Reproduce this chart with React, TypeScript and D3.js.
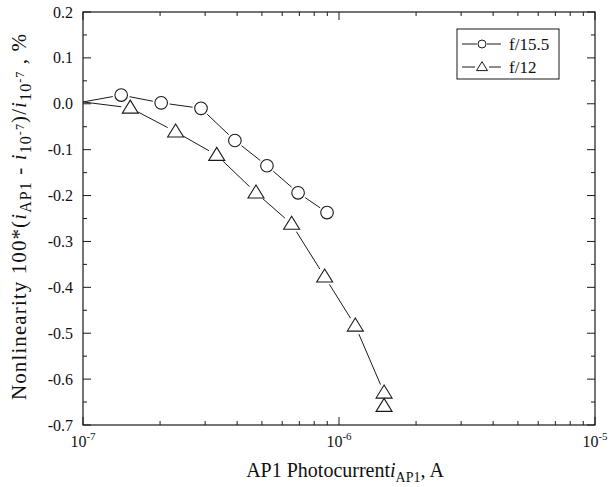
import React from "react";
import * as d3 from "d3";

const seriesNames = ["f/15.5", "f/12"];
const circleX = [1e-7, 1.41e-7, 2.02e-7, 2.89e-7, 3.92e-7, 5.23e-7, 6.92e-7, 8.98e-7];
const circleY = [0.004, 0.019, 0.002, -0.01, -0.08, -0.135, -0.194, -0.237];
const triX = [1e-7, 1.53e-7, 2.3e-7, 3.33e-7, 4.74e-7, 6.53e-7, 8.79e-7, 1.158e-6, 1.5e-6, 1.5e-6];
const triY = [0.004, -0.009, -0.061, -0.112, -0.194, -0.262, -0.377, -0.484, -0.63, -0.659];
const yTicks = [0.2, 0.1, 0.0, -0.1, -0.2, -0.3, -0.4, -0.5, -0.6, -0.7];
const xDecades = [-7, -6, -5];

const W = 610, H = 487;
const L = 83, R = 595, T = 12, B = 425;
const FONT = "'Liberation Serif', 'Times New Roman', serif";

function segs(pts: [number, number][], gap: number) {
  const out: string[] = [];
  for (let i = 0; i < pts.length - 1; i++) {
    const [x1, y1] = pts[i];
    const [x2, y2] = pts[i + 1];
    const dx = x2 - x1, dy = y2 - y1;
    const len = Math.hypot(dx, dy);
    const g1 = i === 0 ? 0 : gap;
    const g2 = gap;
    if (len <= g1 + g2) continue;
    const ux = dx / len, uy = dy / len;
    out.push(`M${x1 + ux * g1},${y1 + uy * g1}L${x2 - ux * g2},${y2 - uy * g2}`);
  }
  return out.join("");
}

function triPath(cx: number, cy: number, w: number, h: number) {
  return `M${cx},${cy - h * 0.6}L${cx + w / 2},${cy + h * 0.4}L${cx - w / 2},${cy + h * 0.4}Z`;
}

export default function App() {
  const x = d3.scaleLog().domain([1e-7, 1e-5]).range([L, R]);
  const y = d3.scaleLinear().domain([-0.7, 0.2]).range([B, T]);

  const cPts: [number, number][] = circleX.map((v, i) => [x(v), y(circleY[i])]);
  const tPts: [number, number][] = triX.map((v, i) => [x(v), y(triY[i])]);

  const minorX: number[] = [];
  for (let d = -7; d < -5; d++) for (let k = 2; k <= 9; k++) minorX.push(k * Math.pow(10, d));
  const minorY: number[] = d3.range(-0.65, 0.2, 0.1);

  const stroke = "#1a1a1a";
  const fs = 16;

  return (
    <svg width={W} height={H} style={{ position: "absolute", left: 0, top: 0, background: "#fff" }} fontFamily={FONT}>
      <rect x={0} y={0} width={W} height={H} fill="#fff" />
      <rect x={L} y={T} width={R - L} height={B - T} fill="none" stroke={stroke} strokeWidth={1.2} />
      {xDecades.map((d) => {
        const px = x(Math.pow(10, d));
        return (
          <g key={"xd" + d}>
            <line x1={px} x2={px} y1={B} y2={B - 8} stroke={stroke} />
            <line x1={px} x2={px} y1={T} y2={T + 8} stroke={stroke} />
            <text x={px} y={447} textAnchor="middle" fontSize={fs} fill="#111">
              10<tspan dy={-7} fontSize={11}>{String(d)}</tspan>
            </text>
          </g>
        );
      })}
      {minorX.map((v, i) => (
        <g key={"xm" + i}>
          <line x1={x(v)} x2={x(v)} y1={B} y2={B - 4} stroke={stroke} />
          <line x1={x(v)} x2={x(v)} y1={T} y2={T + 4} stroke={stroke} />
        </g>
      ))}
      {yTicks.map((v) => (
        <g key={"yt" + v}>
          <line x1={L} x2={L + 8} y1={y(v)} y2={y(v)} stroke={stroke} />
          <line x1={R} x2={R - 8} y1={y(v)} y2={y(v)} stroke={stroke} />
          <text x={73} y={y(v) + 5.5} textAnchor="end" fontSize={fs} fill="#111">
            {d3.format(".1f")(v).replace("−", "-")}
          </text>
        </g>
      ))}
      {minorY.map((v, i) => (
        <g key={"ym" + i}>
          <line x1={L} x2={L + 4} y1={y(v)} y2={y(v)} stroke={stroke} />
          <line x1={R} x2={R - 4} y1={y(v)} y2={y(v)} stroke={stroke} />
        </g>
      ))}
      <path d={segs(cPts, 8.5)} fill="none" stroke={stroke} strokeWidth={1} />
      <path d={segs(tPts, 9)} fill="none" stroke={stroke} strokeWidth={1} />
      {cPts.slice(1).map(([cx, cy], i) => (
        <circle key={"c" + i} cx={cx} cy={cy} r={6.3} fill="#fff" stroke={stroke} strokeWidth={1.1} />
      ))}
      {tPts.slice(1).map(([cx, cy], i) => (
        <path key={"t" + i} d={triPath(cx, cy, 16, 13)} fill="none" stroke={stroke} strokeWidth={1.1} />
      ))}
      <rect x={457} y={29} width={102} height={50} fill="#fff" stroke={stroke} strokeWidth={1} />
      <line x1={462} x2={477} y1={44} y2={44} stroke={stroke} />
      <line x1={487} x2={501} y1={44} y2={44} stroke={stroke} />
      <circle cx={482} cy={44} r={4} fill="none" stroke={stroke} />
      <text x={509} y={50} fontSize={17} fill="#111">{seriesNames[0]}</text>
      <line x1={462} x2={475} y1={67} y2={67} stroke={stroke} />
      <line x1={489} x2={501} y1={67} y2={67} stroke={stroke} />
      <path d={triPath(482, 67, 11, 9)} fill="none" stroke={stroke} />
      <text x={509} y={73} fontSize={17} fill="#111">{seriesNames[1]}</text>
      <text x={345} y={477} textAnchor="middle" fontSize={20} fill="#111">
        AP1 Photocurrent<tspan fontStyle="italic">i</tspan>
        <tspan dy={5} fontSize={14}>AP1</tspan>
        <tspan dy={-5}>, A</tspan>
      </text>
      <text transform={`translate(26,${400}) rotate(-90)`} fontSize={21} fill="#111" textLength={366} lengthAdjust="spacing">
        Nonlinearity 100*(<tspan fontStyle="italic">i</tspan>
        <tspan dy={5} fontSize={16}>AP1</tspan>
        <tspan dy={-5}> - </tspan>
        <tspan fontStyle="italic">i</tspan>
        <tspan dy={5} fontSize={16}>10</tspan>
        <tspan dy={-7} fontSize={12}>-7</tspan>
        <tspan dy={2}>)/</tspan>
        <tspan fontStyle="italic">i</tspan>
        <tspan dy={5} fontSize={16}>10</tspan>
        <tspan dy={-7} fontSize={12}>-7</tspan>
        <tspan dy={2}> , %</tspan>
      </text>
    </svg>
  );
}
